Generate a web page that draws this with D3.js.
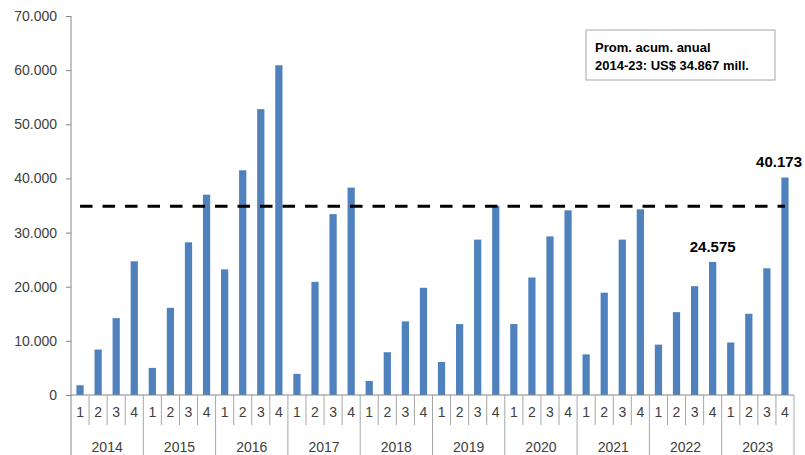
<!DOCTYPE html>
<html>
<head>
<meta charset="utf-8">
<script src="https://cdn.jsdelivr.net/npm/d3@7/dist/d3.min.js"></script>
<style>
  body { margin: 0; background: #fff; }
  svg text { font-family: "Liberation Sans", Arial, sans-serif; }
</style>
</head>
<body>
<div id="chart"></div>
<script>
// data (US$ mill., by quarter)
var years = ["2014", "2015", "2016", "2017", "2018", "2019", "2020", "2021", "2022", "2023"];
var quarters = ["1", "2", "3", "4"];
var values = [
  1800, 8400, 14200, 24700,
  5000, 16100, 28200, 37000,
  23200, 41500, 52800, 60900,
  3900, 20900, 33400, 38300,
  2600, 7900, 13600, 19800,
  6100, 13100, 28700, 34900,
  13100, 21700, 29300, 34100,
  7500, 18900, 28700, 34300,
  9300, 15300, 20100, 24575,
  9700, 15000, 23400, 40173
];
var average = 34867;
var yTicks = [0, 10000, 20000, 30000, 40000, 50000, 60000, 70000];
var labelled = ["2022-4", "2023-4"];
var boxLines = ["Prom. acum. anual", "2014-23: US$ 34.867 mill."];

var W = 805, H = 455;
var margin = {top: 16, right: 11, bottom: 60, left: 71};
var plotW = W - margin.left - margin.right,
    plotH = H - margin.top - margin.bottom;

var locale = d3.formatLocale({decimal: ",", thousands: ".", grouping: [3], currency: ["US$", ""]});
var fmt = locale.format(",.0f");

var data = [];
years.forEach(function(yr, i){
  quarters.forEach(function(q, j){
    data.push({key: yr + "-" + q, year: yr, q: q, value: values[i * 4 + j]});
  });
});
var keys = data.map(function(d){ return d.key; });

var svg = d3.select("#chart").append("svg")
  .attr("width", W)
  .attr("height", H);

var g = svg.append("g")
  .attr("transform", "translate(" + margin.left + "," + margin.top + ")");

var xc = d3.scaleBand().domain(keys).range([0, plotW]);
var x = d3.scaleBand().domain(keys).range([0, plotW]).paddingInner(0.6).paddingOuter(0.3);
var y = d3.scaleLinear().domain([0, 70000]).range([plotH, 0]);

// y axis
var yAxis = d3.axisLeft(y).tickValues(yTicks).tickSize(5).tickPadding(9).tickFormat(fmt);
var ya = g.append("g").attr("class", "y axis").call(yAxis);
ya.select(".domain").remove();
ya.selectAll(".tick line").attr("stroke", "#868686");
ya.selectAll(".tick text").attr("fill", "#404040").style("font-size", "14px");

// bars
g.selectAll(".bar")
    .data(data)
  .enter().append("rect")
    .attr("class", "bar")
    .attr("x", function(d){ return x(d.key); })
    .attr("width", x.bandwidth())
    .attr("y", function(d){ return y(d.value); })
    .attr("height", function(d){ return plotH - y(d.value); })
    .attr("fill", "#4f81bd");

// average line (dashed)
g.append("line")
  .attr("x1", x(keys[0]) + x.bandwidth() / 2)
  .attr("x2", x(keys[keys.length - 1]) + x.bandwidth() / 2)
  .attr("y1", y(average))
  .attr("y2", y(average))
  .attr("stroke", "#000")
  .attr("stroke-width", 3)
  .attr("stroke-dasharray", "12.5,10");

// axes lines
g.append("line")
  .attr("x1", 0).attr("x2", 0)
  .attr("y1", 0).attr("y2", H - margin.top)
  .attr("stroke", "#868686");
g.append("line")
  .attr("x1", 0).attr("x2", plotW)
  .attr("y1", plotH).attr("y2", plotH)
  .attr("stroke", "#868686");

// category separators
var step = xc.step();
keys.forEach(function(k, i){
  if (i === 0) return;
  var isYear = i % 4 === 0;
  g.append("line")
    .attr("x1", xc(k)).attr("x2", xc(k))
    .attr("y1", plotH)
    .attr("y2", isYear ? H - margin.top : plotH + 30)
    .attr("stroke", "#a6a6a6");
});
g.append("line")
  .attr("x1", plotW).attr("x2", plotW)
  .attr("y1", plotH).attr("y2", H - margin.top)
  .attr("stroke", "#a6a6a6");

// quarter labels
g.selectAll(".qlab")
    .data(data)
  .enter().append("text")
    .attr("class", "qlab")
    .attr("x", function(d){ return xc(d.key) + step / 2; })
    .attr("y", plotH + 22)
    .attr("text-anchor", "middle")
    .attr("fill", "#404040")
    .style("font-size", "14px")
    .text(function(d){ return d.q; });

// year labels
g.selectAll(".ylab")
    .data(years)
  .enter().append("text")
    .attr("class", "ylab")
    .attr("x", function(d){ return xc(d + "-1") + step * 2; })
    .attr("y", plotH + 57)
    .attr("text-anchor", "middle")
    .attr("fill", "#404040")
    .style("font-size", "14px")
    .text(function(d){ return d; });

// data labels
g.selectAll(".dlab")
    .data(data.filter(function(d){ return labelled.indexOf(d.key) >= 0; }))
  .enter().append("text")
    .attr("class", "dlab")
    .attr("y", function(d){ return y(d.value) - 10; })
    .attr("text-anchor", "middle")
    .attr("fill", "#000")
    .style("font-size", "15px")
    .style("font-weight", "bold")
    .text(function(d){ return fmt(d.value); })
    .attr("x", function(d){
      var cx = x(d.key) + x.bandwidth() / 2;
      var w = this.getComputedTextLength();
      return Math.min(cx, W - margin.left - 3 - w / 2);
    });

// text box
var box = svg.append("g").attr("transform", "translate(586,30)");
box.append("rect")
  .attr("width", 189).attr("height", 50)
  .attr("fill", "#fff")
  .attr("stroke", "#a6a6a6");
box.selectAll("text")
    .data(boxLines)
  .enter().append("text")
    .attr("x", 9)
    .attr("y", function(d, i){ return 22 + i * 18; })
    .attr("fill", "#000")
    .style("font-size", "13px")
    .style("font-weight", "bold")
    .text(function(d){ return d; });
</script>
</body>
</html>
